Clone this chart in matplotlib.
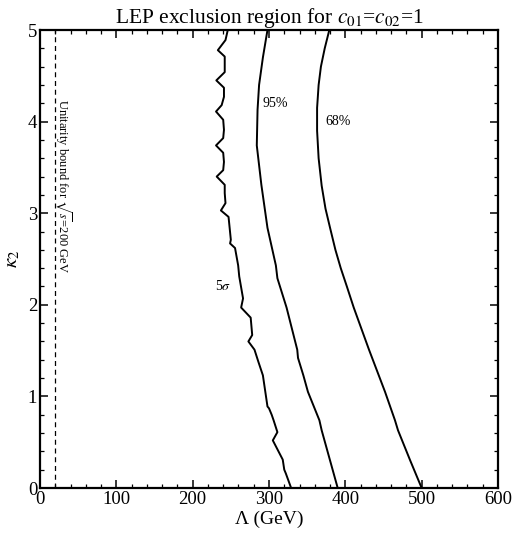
import matplotlib
matplotlib.use("Agg")
import matplotlib.pyplot as plt
from matplotlib.ticker import MultipleLocator

plt.rcParams['font.family'] = ['Liberation Serif', 'DejaVu Serif']
plt.rcParams['mathtext.fontset'] = 'stix'

# contour lines: kappa_2 values and Lambda (GeV) values
kappa_68 = [0, 0.3, 0.63, 0.74, 1.05, 1.51, 1.97, 2.2, 2.4, 2.6, 2.84, 3.05, 3.3, 3.6, 3.9,
            4.15, 4.4, 4.6, 4.8, 5.0]
lam_68 = [500, 485, 469, 465, 452, 431, 411, 402, 394, 387, 380, 374, 369, 365, 363,
          363, 365, 368, 373, 379]

kappa_95 = [0, 0.63, 0.74, 1.05, 1.23, 1.42, 1.51, 1.97, 2.29, 2.43, 2.84, 3.31, 3.74, 4.13, 4.4, 4.7, 5.0]
lam_95 = [390, 369, 366, 351, 345, 338, 337, 323, 311, 309, 298, 290, 284, 285, 287, 292, 298]

kappa_5s = [0, 0.16, 0.2, 0.31, 0.52, 0.61, 0.74, 0.80, 0.87, 0.89, 1.23, 1.38, 1.51,
            1.60, 1.67, 1.86, 1.97, 2.07, 2.31, 2.43, 2.62, 2.67, 2.71, 2.96, 3.03, 3.11,
            3.22, 3.31, 3.40, 3.47, 3.56, 3.66, 3.74, 3.82, 3.91, 4.02, 4.11, 4.18, 4.27,
            4.37, 4.45, 4.54, 4.71, 4.78, 4.89, 5.0]
lam_5s = [329, 322, 320, 318, 305, 311, 306, 303.5, 300, 298, 292, 286, 281,
          273, 278, 276, 263.5, 266, 261, 259.6, 255.5, 249, 250, 247, 237, 243,
          242, 242, 231.5, 240, 241, 240, 230.6, 240, 241, 240, 230.6, 238, 241,
          241, 231, 242, 242, 233, 243, 246]

unitarity_bound = 20  # GeV

fig = plt.figure(figsize=(5.14, 5.34), dpi=100)
ax = fig.add_axes([0.0778, 0.0861, 0.8911, 0.8577])

ax.plot(lam_68, kappa_68, color='black', lw=1.4)
ax.plot(lam_95, kappa_95, color='black', lw=1.4)
ax.plot(lam_5s, kappa_5s, color='black', lw=1.4)
ax.axvline(unitarity_bound, color='black', lw=0.9, ls=(0, (4, 3)))

ax.text(390, 4.0, '68%', fontsize=10, ha='center', va='center')
ax.text(308, 4.2, '95%', fontsize=10, ha='center', va='center')
ax.text(240, 2.2, r'5$\sigma$', fontsize=10, ha='center', va='center')
ax.text(30, 3.3, r'Unitarity bound for $\sqrt{s}$=200 GeV', fontsize=9,
        rotation=-90, ha='center', va='center')

ax.set_xlim(0, 600)
ax.set_ylim(0, 5)
ax.xaxis.set_major_locator(MultipleLocator(100))
ax.xaxis.set_minor_locator(MultipleLocator(20))
ax.yaxis.set_major_locator(MultipleLocator(1))
ax.yaxis.set_minor_locator(MultipleLocator(0.2))
ax.tick_params(which='both', direction='in', top=True, right=True, labelsize=13.5, pad=2)
ax.tick_params(which='major', length=6, width=1.1)
ax.tick_params(which='minor', length=3, width=0.9)
for sp in ax.spines.values():
    sp.set_linewidth(1.6)

ax.set_xlabel('Λ (GeV)', fontsize=14, labelpad=2)
ax.set_ylabel(r'$\kappa_2$', fontsize=15, labelpad=4)
ax.set_title(r'LEP exclusion region for $c_{01}$=$c_{02}$=1', fontsize=15.5, pad=3)

fig.savefig('out.png', dpi=100)
